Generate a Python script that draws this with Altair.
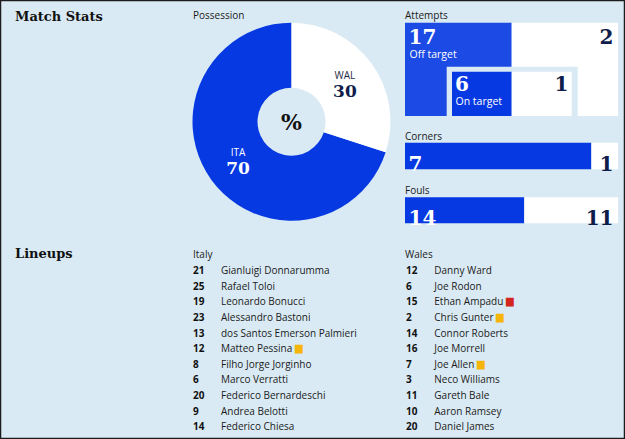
import altair as alt
import pandas as pd

# ---------------- data ----------------
teams = ["ITA", "WAL"]
possession = [70, 30]
poss_order = [2, 1]

attempt_types = ["Off target", "On target"]
attempts_ita = [17, 6]
attempts_wal = [2, 1]

bar_stats = ["Corners", "Fouls"]
bar_ita = [7, 14]
bar_wal = [1, 11]

italy_numbers = [21, 25, 19, 23, 13, 12, 8, 6, 20, 9, 14]
italy_names = ["Gianluigi Donnarumma", "Rafael Toloi", "Leonardo Bonucci",
               "Alessandro Bastoni", "dos Santos Emerson Palmieri", "Matteo Pessina",
               "Filho Jorge Jorginho", "Marco Verratti", "Federico Bernardeschi",
               "Andrea Belotti", "Federico Chiesa"]
italy_cards = ["", "", "", "", "", "yellow", "", "", "", "", ""]

wales_numbers = [12, 6, 15, 2, 14, 16, 7, 3, 11, 10, 20]
wales_names = ["Danny Ward", "Joe Rodon", "Ethan Ampadu", "Chris Gunter",
               "Connor Roberts", "Joe Morrell", "Joe Allen", "Neco Williams",
               "Gareth Bale", "Aaron Ramsey", "Daniel James"]
wales_cards = ["", "", "red", "yellow", "", "", "yellow", "", "", "", ""]

# ---------------- style ----------------
BG = "#d9eaf4"
BLUE = "#0639e2"
OFF_BLUE = "#1c4ae4"
NAVY = "#0f1d4a"
TEXT = "#1b1b1b"
SANS = "Open Sans"
SERIF = "DejaVu Serif"

one = pd.DataFrame({"a": [0]})


def label(text, x, y, size=10, font=SANS, weight="normal", color=TEXT,
          align="left", baseline="alphabetic"):
    return alt.Chart(one).mark_text(
        text=text, font=font, fontSize=size, fontWeight=weight, color=color,
        align=align, baseline=baseline
    ).encode(x=alt.value(x), y=alt.value(y))


def box(x, x2, y, y2, color):
    return alt.Chart(one).mark_rect(color=color).encode(
        x=alt.value(x), x2=alt.value(x2), y=alt.value(y), y2=alt.value(y2))


layers = []

# titles
layers.append(label("Match Stats", 15, 21, size=13, font=SERIF, weight="bold", color="#111111"))
layers.append(label("Possession", 193, 19, size=10))
layers.append(label("Attempts", 405, 19, size=10))
layers.append(label("Lineups", 15, 258, size=13, font=SERIF, weight="bold", color="#111111"))
layers.append(label("Italy", 193, 258, size=10))
layers.append(label("Wales", 405, 258, size=10))

# ---------------- possession donut ----------------
poss_df = pd.DataFrame({"team": teams, "pct": possession, "order": poss_order})
CX, CY = 291.5, 121.7
theta = alt.Theta("pct:Q", stack=True)
order = alt.Order("order:Q")

arc = alt.Chart(poss_df).mark_arc(innerRadius=34, outerRadius=99).encode(
    theta=theta, order=order,
    color=alt.Color("team:N", scale=alt.Scale(domain=["ITA", "WAL"], range=[BLUE, "#ffffff"]), legend=None),
    x=alt.value(CX), y=alt.value(CY))
team_txt = alt.Chart(poss_df).mark_text(radius=66, dy=-7, font=SANS, fontSize=10, baseline="middle").encode(
    theta=theta, order=order, text="team:N",
    color=alt.Color("team:N", scale=alt.Scale(domain=["ITA", "WAL"], range=["#ffffff", "#1f2b45"]), legend=None),
    x=alt.value(CX), y=alt.value(CY))
pct_txt = alt.Chart(poss_df).mark_text(radius=66, dy=9, font=SERIF, fontSize=17, fontWeight="bold", baseline="middle").encode(
    theta=theta, order=order, text="pct:Q",
    color=alt.Color("team:N", scale=alt.Scale(domain=["ITA", "WAL"], range=["#ffffff", NAVY]), legend=None),
    x=alt.value(CX), y=alt.value(CY))
layers += [arc, team_txt, pct_txt]
layers.append(label("%", CX, CY + 1, size=22, font=SERIF, weight="bold", color="#111111", align="center", baseline="middle"))

# ---------------- attempts ----------------
layers.append(box(405, 511.7, 22.7, 116, OFF_BLUE))
layers.append(box(511.7, 618, 22.7, 116, "#ffffff"))
layers.append(box(446.7, 577.7, 66.7, 116, BG))
layers.append(box(452, 511.7, 71.7, 116, BLUE))
layers.append(box(511.7, 571.7, 71.7, 116, "#ffffff"))

layers.append(label(str(attempts_ita[0]), 408.5, 44, size=20, font=SERIF, weight="bold", color="#ffffff"))
layers.append(label(attempt_types[0], 409.5, 58, size=10.5, color="#ffffff"))
layers.append(label(str(attempts_wal[0]), 613.5, 44, size=20, font=SERIF, weight="bold", color=NAVY, align="right"))
layers.append(label(str(attempts_ita[1]), 455, 90.5, size=20, font=SERIF, weight="bold", color="#ffffff"))
layers.append(label(attempt_types[1], 455.5, 105, size=10.5, color="#ffffff"))
layers.append(label(str(attempts_wal[1]), 568.5, 90.5, size=20, font=SERIF, weight="bold", color=NAVY, align="right"))

# ---------------- corners / fouls bars ----------------
bar_df = pd.DataFrame({"stat": bar_stats, "ita": bar_ita, "wal": bar_wal})
xs = alt.Scale(domain=[0, 1], range=[405, 618])
bar_rows = {"Corners": (140, 142.7, 169.3, 165), "Fouls": (194, 197.3, 223.3, 218.5)}
for s in bar_stats:
    ty, y0, y1, nb = bar_rows[s]
    layers.append(label(s, 405, ty, size=10))
    base = alt.Chart(bar_df).transform_filter(alt.datum.stat == s).transform_calculate(
        share="datum.ita / (datum.ita + datum.wal)", zero="0", one="1")
    layers.append(base.mark_rect(color=BLUE).encode(
        x=alt.X("zero:Q", scale=xs, axis=None), x2="share:Q",
        y=alt.value(y0), y2=alt.value(y1)))
    layers.append(base.mark_rect(color="#ffffff").encode(
        x=alt.X("share:Q", scale=xs, axis=None), x2="one:Q",
        y=alt.value(y0), y2=alt.value(y1)))
    layers.append(base.mark_text(font=SERIF, fontSize=20, fontWeight="bold", color="#ffffff", align="left").encode(
        x=alt.value(408.5), y=alt.value(nb), text="ita:Q"))
    layers.append(base.mark_text(font=SERIF, fontSize=20, fontWeight="bold", color=NAVY, align="right").encode(
        x=alt.value(613.5), y=alt.value(nb), text="wal:Q"))

# ---------------- lineups ----------------
ys = alt.Scale(domain=[0, 10], range=[271, 427.3])
card_scale = alt.Scale(domain=["yellow", "red"], range=["#f5b50a", "#d3241d"])


def lineup(numbers, names, cards, xnum, xname):
    df = pd.DataFrame({"row": list(range(len(names))), "num": numbers, "name": names, "card": cards})
    base = alt.Chart(df)
    yenc = alt.Y("row:Q", scale=ys, axis=None)
    out = []
    out.append(base.mark_text(font=SANS, fontSize=10, fontWeight="bold", color="#111111",
                              align="left", baseline="middle").encode(
        x=alt.value(xnum), y=yenc, text="num:Q"))
    carded = base.transform_filter(alt.datum.card != "")
    # name + card glyph in card colour
    out.append(carded.transform_calculate(
        withcard="datum.name + ' \u2586'").mark_text(
        font=SANS, fontSize=10, align="left", baseline="middle", dy=-1).encode(
        x=alt.value(xname), y=yenc, text="withcard:N",
        color=alt.Color("card:N", scale=card_scale, legend=None)))
    # erase the coloured name part
    out.append(carded.mark_text(font=SANS, fontSize=10, align="left", baseline="middle", dy=-1,
                                color=BG, stroke=BG, strokeWidth=2).encode(
        x=alt.value(xname), y=yenc, text="name:N"))
    out.append(base.mark_text(font=SANS, fontSize=10, color=TEXT, align="left", baseline="middle").encode(
        x=alt.value(xname), y=yenc, text="name:N"))
    return out


layers += lineup(italy_numbers, italy_names, italy_cards, 193, 221)
layers += lineup(wales_numbers, wales_names, wales_cards, 406, 434.3)

chart = alt.layer(*layers).properties(
    width=625, height=439,
    autosize=alt.AutoSizeParams(type="none"),
    padding=0,
    background=BG,
).resolve_scale(
    x="independent", y="independent", color="independent"
).configure_view(stroke="#1c1c1c", strokeWidth=2.5, fill=BG)

chart.save("out.html", embed_options={"renderer": "svg", "actions": False})
